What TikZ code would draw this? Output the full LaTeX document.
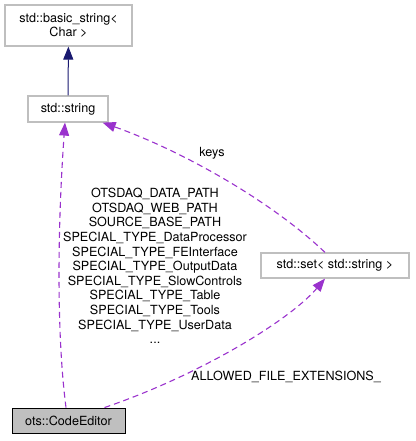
\documentclass[tikz,border=0pt]{standalone}
\usepackage{fontspec}
\setmainfont{TeX Gyre Heros}
\usetikzlibrary{arrows.meta}
\definecolor{orchid}{RGB}{154,50,205}
\definecolor{navy}{RGB}{25,25,112}
\definecolor{boxgray}{RGB}{191,191,191}

\begin{document}
\begin{tikzpicture}[x=1pt,y=-1pt,font=\fontsize{12.6}{14.6}\selectfont,
  klass/.style={draw=boxgray,line width=1.2pt,inner sep=0pt,align=center},
  uses/.style={orchid,line width=1.1pt,dash pattern=on 6pt off 4pt,-{Triangle[length=13pt,width=10pt]}},
  inherits/.style={navy,line width=1pt,-{Triangle[length=13pt,width=10pt]}}]
\useasboundingbox (0,0) rectangle (415,441);

\node [klass, minimum width=127, minimum height=41] (basic) at (68.5,25.5) {std::basic\_string<\\Char >};
\node [klass, minimum width=80, minimum height=26] (str) at (68,109) {std::string};
\node [klass, minimum width=148, minimum height=25] (set) at (335,265.5) {std::set< std::string >};
\node [klass, draw=black, fill=boxgray, line width=0.9pt, minimum width=113, minimum height=25] (edit) at (68.5,420.5) {ots::CodeEditor};

\draw [inherits] (str) -- (basic);

\draw [uses] ([xshift=-2.5]edit.north) .. controls (56,330) and (58,220) .. ([xshift=-3]str.south);
\draw [uses] ([xshift=-10]set.north) .. controls (270,200) and (180,150) .. ([xshift=-6]str.south east);
\draw [uses] ([xshift=36]edit.north) .. controls (200,375) and (290,320) .. ([xshift=-10]set.south);

\node (keys) at (212,153) {keys};
\node [align=center] (paths) at (155,266) {OTSDAQ\_DATA\_PATH\\OTSDAQ\_WEB\_PATH\\SOURCE\_BASE\_PATH\\SPECIAL\_TYPE\_DataProcessor\\SPECIAL\_TYPE\_FEInterface\\SPECIAL\_TYPE\_OutputData\\SPECIAL\_TYPE\_SlowControls\\SPECIAL\_TYPE\_Table\\SPECIAL\_TYPE\_Tools\\SPECIAL\_TYPE\_UserData\\...};
\node (ext) at (286,377) {ALLOWED\_FILE\_EXTENSIONS\_};

\end{tikzpicture}
\end{document}
